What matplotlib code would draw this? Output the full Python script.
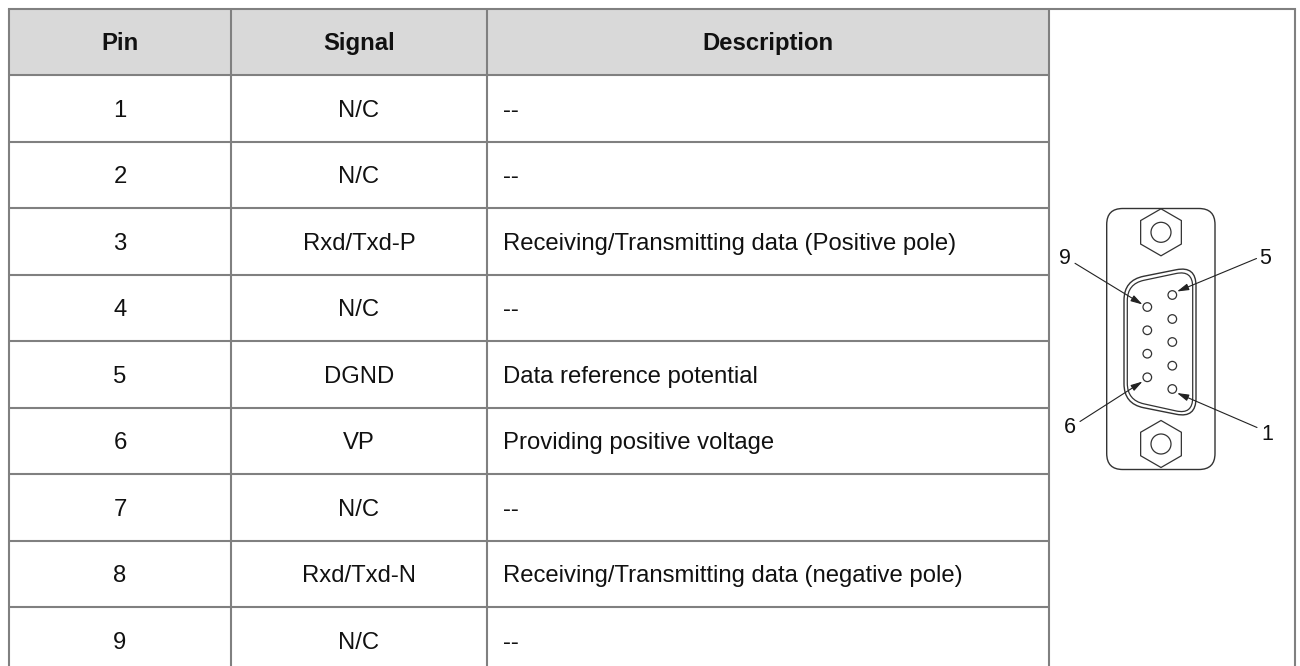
import matplotlib
matplotlib.use("Agg")
import matplotlib.pyplot as plt
from matplotlib.patches import Circle, PathPatch, Polygon, Rectangle
from matplotlib.path import Path
import numpy as np

plt.rcParams['font.family'] = ['Liberation Sans', 'DejaVu Sans']

# --- table content ---
headers = ["Pin", "Signal", "Description"]
pins = ["1", "2", "3", "4", "5", "6", "7", "8", "9"]
signals = ["N/C", "N/C", "Rxd/Txd-P", "N/C", "DGND", "VP", "N/C", "Rxd/Txd-N", "N/C"]
descriptions = ["--", "--", "Receiving/Transmitting data (Positive pole)", "--",
                "Data reference potential", "Providing positive voltage", "--",
                "Receiving/Transmitting data (negative pole)", "--"]

# --- connector drawing (pixels) ---
pins_right = [(1172.3, 295), (1172.3, 319), (1172.3, 342), (1172.3, 365.7), (1172.3, 389)]
pins_left = [(1147.3, 307), (1147.3, 330.3), (1147.3, 353.7), (1147.3, 377.3)]
callouts = [("9", (1065.3, 259), (1075, 263.3), (1142.5, 304.5)),
            ("5", (1265.5, 259), (1256.5, 258.5), (1177, 291.5)),
            ("6", (1069.5, 427.5), (1080, 421.5), (1142.5, 381.5)),
            ("1", (1267.5, 435), (1257, 427.5), (1177, 393))]

line_col = "#808080"
x_cols = [9, 231, 487, 1049, 1295]
x_centers = [120, 359, 768]
x_desc = 503
y_top = 8.5
y_head = 75
row_h = 66.5
base_off = 8.6

fig = plt.figure(figsize=(13, 6.66), dpi=100)
ax = fig.add_axes([0, 0, 1, 1])
ax.set_xlim(0, 1300)
ax.set_ylim(666, 0)
ax.axis("off")

# --- grid ---
ax.add_patch(Rectangle((x_cols[0], y_top), x_cols[3] - x_cols[0], y_head - y_top, fc="#D9D9D9", ec="none"))
for x in x_cols:
    ax.plot([x, x], [y_top, 666], color=line_col, lw=1.5, solid_capstyle="butt")
ax.plot([x_cols[0], x_cols[4]], [y_top, y_top], color=line_col, lw=1.5, solid_capstyle="projecting")
for i in range(len(pins)):
    y = y_head + i * row_h
    ax.plot([x_cols[0], x_cols[3]], [y, y], color=line_col, lw=1.5, solid_capstyle="butt")

# --- text ---
for x, h in zip(x_centers, headers):
    ax.text(x, (y_top + y_head) / 2 + base_off, h, ha="center", va="baseline",
            fontsize=17.2, fontweight="bold", color="#111111")
for i in range(len(pins)):
    yb = y_head + (i + 0.5) * row_h + base_off
    ax.text(x_centers[0], yb, pins[i], ha="center", va="baseline", fontsize=17.2, color="#111111")
    ax.text(x_centers[1], yb, signals[i], ha="center", va="baseline", fontsize=17.2, color="#111111")
    ax.text(x_desc, yb, descriptions[i], ha="left", va="baseline", fontsize=17.2, color="#111111")


def rounded(points, radius):
    # polygon with quadratic rounded corners
    verts, codes = [], []
    n = len(points)
    for i in range(n):
        p = np.array(points[i], float)
        a = np.array(points[i - 1], float)
        b = np.array(points[(i + 1) % n], float)
        p1 = p + (a - p) / np.linalg.norm(a - p) * radius
        p2 = p + (b - p) / np.linalg.norm(b - p) * radius
        verts.append(p1)
        codes.append(Path.MOVETO if i == 0 else Path.LINETO)
        verts += [p, p2]
        codes += [Path.CURVE3, Path.CURVE3]
    verts.append(verts[0])
    codes.append(Path.CLOSEPOLY)
    return Path(verts, codes)


def hexagon(cx, cy, r):
    ang = np.radians(np.arange(6) * 60 + 90)
    return np.column_stack([cx + r * np.cos(ang), cy + r * np.sin(ang)])


ink = "#333333"
ax.add_patch(PathPatch(rounded([(1106.7, 208.5), (1215, 208.5), (1215, 469.5), (1106.7, 469.5)], 16),
                       fc="none", ec=ink, lw=1.0))
for cy in (232.3, 444):
    ax.add_patch(Polygon(hexagon(1161, cy, 23.5), closed=True, fc="none", ec=ink, lw=0.9))
    ax.add_patch(Circle((1161, cy), 10, fc="none", ec=ink, lw=0.9))

outer = [(1124, 280.2), (1196, 265.8), (1196, 418.2), (1124, 403.8)]
inner = [(1127.3, 283.8), (1192.7, 270), (1192.7, 414.6), (1127.3, 400.2)]
ax.add_patch(PathPatch(rounded(outer, 20), fc="none", ec=ink, lw=1.0))
ax.add_patch(PathPatch(rounded(inner, 17), fc="none", ec=ink, lw=0.9))

for x, y in pins_right + pins_left:
    ax.add_patch(Circle((x, y), 4.3, fc="white", ec=ink, lw=0.9))

for lab, pos, start, tip in callouts:
    ax.text(pos[0], pos[1], lab, ha="center", va="center", fontsize=15.5, color="#111111")
    ax.annotate("", xy=tip, xytext=start,
                arrowprops=dict(arrowstyle="-|>,head_length=0.7,head_width=0.2", color="#222222",
                                lw=0.8, shrinkA=0, shrinkB=0))

fig.savefig("out.png", dpi=100)
